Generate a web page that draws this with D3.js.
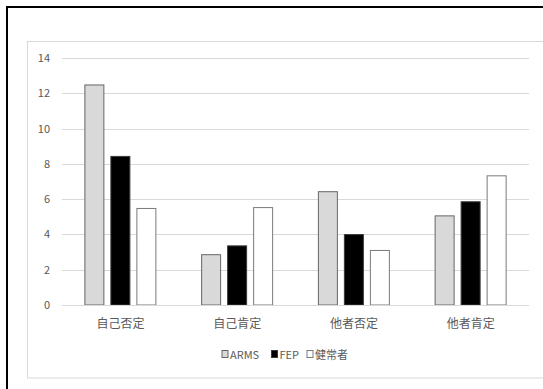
<!DOCTYPE html>
<html><head><meta charset="utf-8">
<script src="https://cdn.jsdelivr.net/npm/d3@7"></script>
<style>
html,body{margin:0;padding:0;background:#fff;overflow:hidden;}
text{font-family:"Noto Sans CJK JP","Noto Sans",sans-serif;}
</style></head><body>
<script>
const categories = ["自己否定","自己肯定","他者否定","他者肯定"];
const seriesNames = ["ARMS","FEP","健常者"];
const arms = [12.5, 2.88, 6.45, 5.08];
const fep = [8.45, 3.38, 4.02, 5.88];
const healthy = [5.5, 5.55, 3.12, 7.35];
const yTicks = [0,2,4,6,8,10,12,14];

const seriesValues = [arms, fep, healthy];
const fills = ["#d9d9d9","#000000","#ffffff"];
const strokes = ["#666666","#3a3a3a","#7a7a7a"];

const W=543,H=389;
const svg=d3.select("body").append("svg").attr("width",W).attr("height",H);

// outer frame
svg.append("rect").attr("x",7).attr("y",7).attr("width",W).attr("height",H)
  .attr("fill","none").attr("stroke","#000").attr("stroke-width",2);
// chart area border
svg.append("rect").attr("x",27.5).attr("y",41.5).attr("width",W).attr("height",336.5)
  .attr("fill","none").attr("stroke","#d9d9d9").attr("stroke-width",1);

const pLeft=62,pRight=529,pTop=58,pBottom=305;
const y=d3.scaleLinear().domain([0,14]).range([pBottom,pTop]);
const x0=d3.scaleBand().domain(categories).range([pLeft,pRight]).paddingInner(0).paddingOuter(0);
const gw=72;
const x1=d3.scaleBand().domain(seriesNames)
  .range([(x0.bandwidth()-gw)/2,(x0.bandwidth()+gw)/2]).paddingInner(0.231).paddingOuter(0);

// gridlines
const yAxis=d3.axisLeft(y).tickValues(yTicks).tickSize(-(pRight-pLeft)).tickPadding(12);
const ga=svg.append("g").attr("transform",`translate(${pLeft},0)`).call(yAxis);
ga.select(".domain").remove();
ga.selectAll(".tick line").attr("stroke","#d9d9d9").attr("shape-rendering","crispEdges");
ga.selectAll(".tick text").attr("fill","#595959").attr("font-size",11);

// bars
const groups=svg.append("g").selectAll("g").data(categories).join("g")
  .attr("transform",d=>`translate(${x0(d)},0)`);
seriesNames.forEach((s,si)=>{
  groups.append("rect")
    .attr("x",x1(s)+0.5)
    .attr("y",(d,i)=>y(seriesValues[si][i])+0.5)
    .attr("width",x1.bandwidth()-1)
    .attr("height",(d,i)=>y(0)-y(seriesValues[si][i])-0.5)
    .attr("fill",fills[si]).attr("stroke",strokes[si]).attr("stroke-width",1);
});

// baseline
svg.append("line").attr("x1",pLeft).attr("x2",pRight).attr("y1",y(0)+0.5).attr("y2",y(0)+0.5)
  .attr("stroke","#d9d9d9");

// x axis labels
const xAxis=d3.axisBottom(x0).tickSize(0).tickPadding(14);
const gx=svg.append("g").attr("transform",`translate(0,${pBottom})`).call(xAxis);
gx.select(".domain").remove();
gx.selectAll(".tick text").attr("fill","#595959").attr("font-size",12);

// legend
const legendX=[221.5,271,306.5];
const lg=svg.append("g");
seriesNames.forEach((s,i)=>{
  lg.append("rect").attr("x",legendX[i]+0.5).attr("y",350.5).attr("width",6).attr("height",7)
    .attr("fill",fills[i]).attr("stroke",strokes[i]);
  lg.append("text").attr("x",legendX[i]+8.5).attr("y",358.5).text(s)
    .attr("fill","#595959").attr("font-size",11);
});
</script>
</body></html>
